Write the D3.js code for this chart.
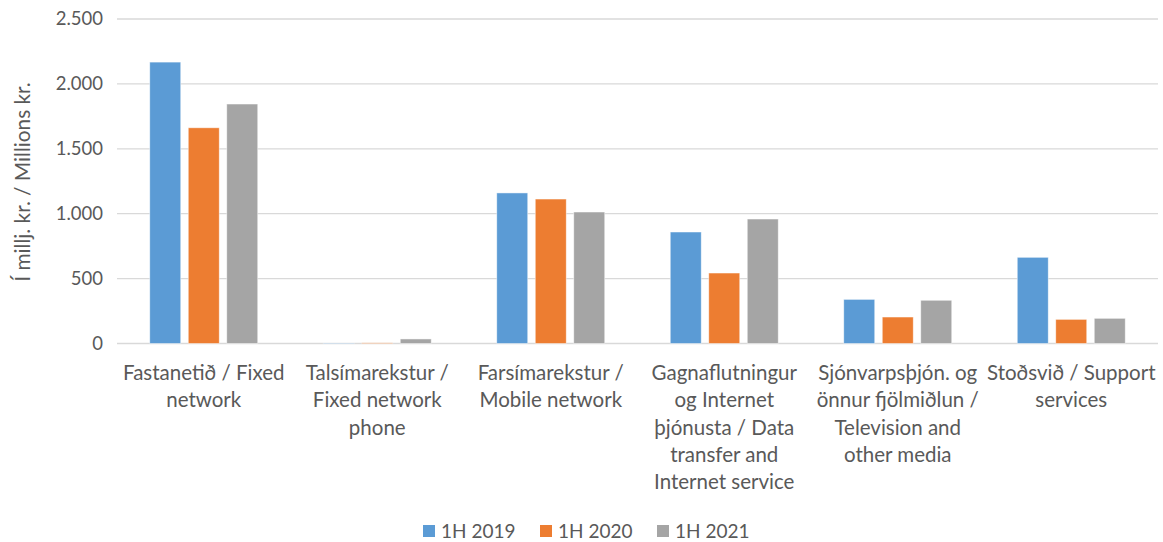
<!DOCTYPE html>
<html>
<head>
<meta charset="utf-8">
<script src="https://cdn.jsdelivr.net/npm/d3@7"></script>
<style>
  body { margin: 0; background: #fff; }
  svg text { font-family: Lato, "Open Sans", "Liberation Sans", sans-serif; fill: #595959; }
</style>
</head>
<body>
<svg id="chart" width="1163" height="542"></svg>
<script>
// Revenue by segment, first half of each year (millions ISK)
const categories = [
  ["Fastanetið / Fixed", "network"],
  ["Talsímarekstur /", "Fixed network", "phone"],
  ["Farsímarekstur /", "Mobile network"],
  ["Gagnaflutningur", "og Internet", "þjónusta / Data", "transfer and", "Internet service"],
  ["Sjónvarpsþjón. og", "önnur fjölmiðlun /", "Television and", "other media"],
  ["Stoðsvið / Support", "services"]
];
const seriesNames = ["1H 2019", "1H 2020", "1H 2021"];
const values2019 = [2168, 3, 1160, 859, 340, 664];
const values2020 = [1662, 5, 1113, 543, 204, 186];
const values2021 = [1845, 35, 1013, 959, 333, 194];
const yTicks = [0, 500, 1000, 1500, 2000, 2500];
const yTickLabels = ["0", "500", "1.000", "1.500", "2.000", "2.500"];
const colors = ["#5B9BD5", "#ED7D31", "#A5A5A5"];

const series = [values2019, values2020, values2021];
const svg = d3.select("#chart");
const plot = { left: 117, right: 1158, top: 19, bottom: 343.5 };

const x = d3.scaleBand().domain(d3.range(categories.length))
  .range([plot.left, plot.right]).paddingInner(0).paddingOuter(0);
const groupW = 108;
const xs = d3.scaleBand().domain(d3.range(series.length))
  .range([0, groupW]).paddingInner(0.195).paddingOuter(0);
const y = d3.scaleLinear().domain([0, 2500]).range([plot.bottom, plot.top]);

// gridlines
svg.append("g").selectAll("line").data(yTicks).join("line")
  .attr("x1", plot.left).attr("x2", plot.right)
  .attr("y1", d => y(d)).attr("y2", d => y(d))
  .attr("stroke", "#D9D9D9").attr("stroke-width", 1.3);

// y axis labels
const yAxis = d3.axisLeft(y).tickValues(yTicks)
  .tickFormat((d, i) => yTickLabels[i]).tickSize(0).tickPadding(0);
const gy = svg.append("g").attr("transform", `translate(${plot.left - 14},0)`).call(yAxis);
gy.select(".domain").remove();
gy.selectAll("text").attr("font-size", 18.5).style("fill", "#595959")
  .style("font-family", "Lato, 'Open Sans', sans-serif");

// bars
series.forEach((vals, si) => {
  svg.append("g").selectAll("rect").data(vals).join("rect")
    .attr("x", (d, i) => x(i) + (x.bandwidth() - groupW) / 2 + xs(si))
    .attr("width", xs.bandwidth())
    .attr("y", d => y(d))
    .attr("height", d => y(0) - y(d))
    .attr("fill", colors[si])
    .attr("stroke", "#ffffff").attr("stroke-opacity", 0.6).attr("stroke-width", 0.8);
});

// category labels
const cat = svg.append("g").selectAll("text").data(categories).join("text")
  .attr("text-anchor", "middle").attr("font-size", 20.5)
  .attr("transform", (d, i) => `translate(${x(i) + x.bandwidth() / 2},380)`);
cat.selectAll("tspan").data(d => d).join("tspan")
  .attr("x", 0).attr("y", (d, j) => j * 27.3).text(d => d);

// y axis title
svg.append("text")
  .attr("transform", "translate(30,182) rotate(-90)")
  .attr("text-anchor", "middle").attr("font-size", 20.8)
  .text("Í millj. kr. / Millions kr.");

// legend
const legendX = [423, 540, 657];
const lg = svg.append("g").selectAll("g").data(seriesNames).join("g")
  .attr("transform", (d, i) => `translate(${legendX[i]},531)`);
lg.append("rect").attr("x", 0).attr("y", -6).attr("width", 12).attr("height", 12)
  .attr("fill", (d, i) => colors[i]);
lg.append("text").attr("x", 18).attr("y", 7).attr("font-size", 19).text(d => d);
</script>
</body>
</html>
